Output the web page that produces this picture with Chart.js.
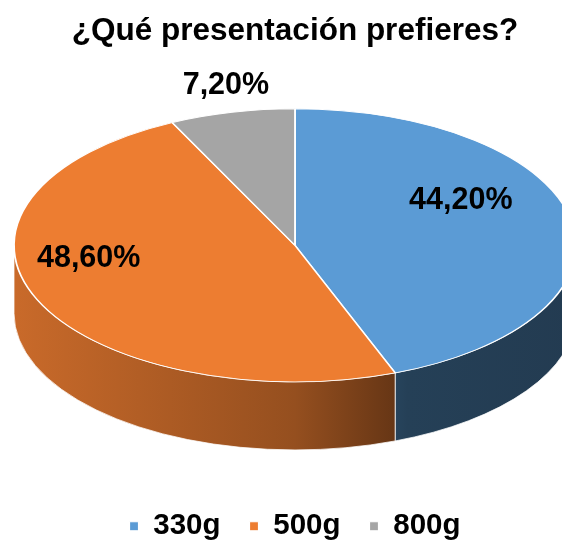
<!DOCTYPE html>
<html>
<head>
<meta charset="utf-8">
<script src="https://cdn.jsdelivr.net/npm/chart.js@4.4.1/dist/chart.umd.min.js"></script>
<style>
  html, body { margin: 0; padding: 0; background: #fff; }
</style>
</head>
<body>
<canvas id="myChart" width="562" height="542"></canvas>
<script>
// Global font settings:
Chart.defaults.font.family = '"Liberation Sans", Arial, sans-serif';
Chart.defaults.color = '#000';

// Data
const CATEGORIES = ['330g', '500g', '800g'];
const SHARES = [44.2, 48.6, 7.2];
const SLICE_COLORS = ['#5B9BD5', '#ED7D31', '#A5A5A5'];

// 3D look of the pie
const TILT = 0.486;     // height / width of the top face
const DEPTH = 68;       // thickness of the cake
const LIFT = 30;        // perspective: the apex sits above the ellipse centre
const OVERHANG = 14;    // the right rim runs off the canvas
const OUTSIDE_GAP = 27; // distance of outside labels from the rim
// lighting along the side wall, left to right
const SIDE_LIGHT = [[0, 0.85], [0.5, 0.63], [0.7, 0.41], [1, 0.38]];

function shade(hex, f) {
    const n = parseInt(hex.slice(1), 16);
    const r = Math.round(((n >> 16) & 255) * f);
    const g = Math.round(((n >> 8) & 255) * f);
    const b = Math.round((n & 255) * f);
    return `rgb(${r}, ${g}, ${b})`;
}

function formatShare(value) {
    return value.toFixed(2).replace('.', ',') + '%';
}

function ellipseOf(chart) {
    const area = chart.chartArea;
    const rx = area.width / 2 + OVERHANG;
    const ry = rx * TILT;
    return { cx: area.left + area.width / 2, cy: area.top + ry, rx, ry };
}

const pie3d = {
    id: 'pie3d',
    beforeDatasetsDraw(chart) {
        const ctx = chart.ctx;
        const meta = chart.getDatasetMeta(0);
        const colors = chart.data.datasets[0].backgroundColor;
        const e = ellipseOf(chart);

        // side walls: only the front half (0..PI) can be seen
        meta.data.forEach((arc, i) => {
            const a = Math.max(arc.startAngle, 0);
            const b = Math.min(arc.endAngle, Math.PI);
            if (b <= a) return;
            const grad = ctx.createLinearGradient(e.cx - e.rx, 0, e.cx + e.rx, 0);
            SIDE_LIGHT.forEach(([t, f]) => grad.addColorStop(t, shade(colors[i], f)));
            ctx.beginPath();
            ctx.ellipse(e.cx, e.cy, e.rx, e.ry, 0, a, b);
            ctx.ellipse(e.cx, e.cy + DEPTH, e.rx, e.ry, 0, b, a, true);
            ctx.closePath();
            ctx.fillStyle = grad;
            ctx.fill();
            ctx.strokeStyle = 'rgba(255, 255, 255, 0.75)';
            ctx.lineWidth = 1;
            ctx.stroke();
        });

        // squash the round pie into the tilted top face
        const first = meta.data[0];
        ctx.save();
        ctx.translate(e.cx, e.cy);
        ctx.scale(e.rx / first.outerRadius, e.ry / first.outerRadius);
        ctx.translate(-first.x, -first.y);
    },
    afterDatasetsDraw(chart, args, opts) {
        const ctx = chart.ctx;
        ctx.restore();

        const meta = chart.getDatasetMeta(0);
        const values = chart.data.datasets[0].data;
        const total = values.reduce((s, v) => s + v, 0);
        const e = ellipseOf(chart);

        ctx.save();
        ctx.font = 'bold 30.5px "Liberation Sans", Arial, sans-serif';
        ctx.fillStyle = '#000';
        ctx.textAlign = 'center';
        ctx.textBaseline = 'middle';
        meta.data.forEach((arc, i) => {
            const mid = (arc.startAngle + arc.endAngle) / 2;
            const c = Math.cos(mid);
            const s = Math.sin(mid);
            let x, y;
            if (values[i] / total < 0.1) {
                // thin slice: label outside the rim
                x = e.cx + (e.rx + OUTSIDE_GAP) * c;
                y = e.cy + e.ry * s + OUTSIDE_GAP * s;
            } else {
                const k = opts.labelRadius[i];
                x = e.cx + e.rx * k * c;
                y = e.cy - LIFT + e.ry * k * s;
            }
            ctx.fillText(formatShare(values[i]), x, y);
        });
        ctx.restore();
    }
};

new Chart(document.getElementById('myChart'), {
    type: 'pie',
    data: {
        labels: CATEGORIES,
        datasets: [{
            data: SHARES,
            backgroundColor: SLICE_COLORS,
            borderColor: '#ffffff',
            borderWidth: 1.2
        }]
    },
    options: {
        responsive: false,
        animation: false,
        events: [],
        layout: {
            padding: { left: 28, right: 0, top: 0, bottom: -9 }
        },
        plugins: {
            title: {
                display: true,
                text: '¿Qué presentación prefieres?',
                color: '#000',
                font: { size: 31.5, weight: 'bold' },
                padding: { top: 12, bottom: 59 }
            },
            legend: {
                position: 'bottom',
                labels: {
                    usePointStyle: true,
                    pointStyle: 'rect',
                    boxWidth: 9,
                    boxHeight: 9,
                    padding: 29,
                    color: '#000',
                    font: { size: 29.5, weight: 'bold' }
                }
            },
            tooltip: { enabled: false },
            pie3d: { labelRadius: [0.6, 0.8] }
        }
    },
    plugins: [pie3d]
});
</script>
</body>
</html>
